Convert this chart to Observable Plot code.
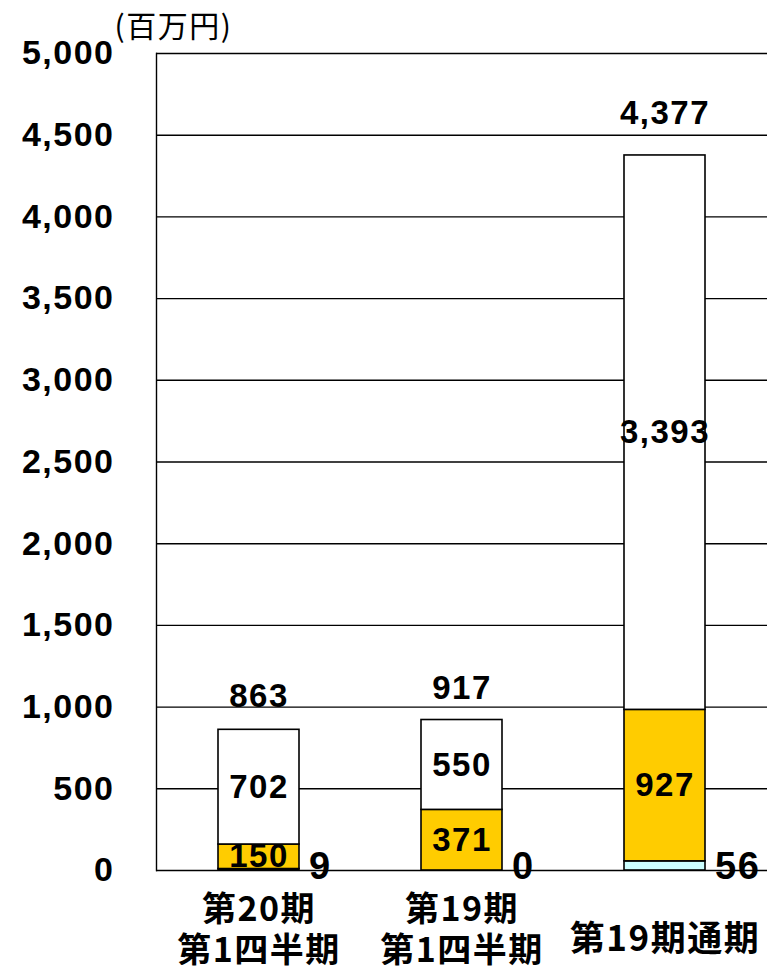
<!DOCTYPE html>
<html>
<head>
<meta charset="utf-8">
<script src="https://cdn.jsdelivr.net/npm/d3@7"></script>
<script src="https://cdn.jsdelivr.net/npm/@observablehq/plot@0.6"></script>
<style>
  html, body { margin: 0; padding: 0; background: #fff; }
  #chart svg { display: block; }
  #chart svg text { letter-spacing: 1.5px; }
</style>
</head>
<body>
<div id="chart"></div>
<script>
// ---- data ----
const categories = ["第20期\n第1四半期", "第19期\n第1四半期", "第19期通期"];
const seriesNames = ["その他", "中間", "上部"];
const bottomValues = [9, 0, 56];        // light cyan
const middleValues = [150, 371, 927];   // gold
const topValues = [702, 550, 3393];     // white
const totals = [863, 917, 4377];
const yTicks = [0, 500, 1000, 1500, 2000, 2500, 3000, 3500, 4000, 4500, 5000];
const unitLabel = "(百万円)";

const rows = [];
categories.forEach((c, i) => {
  rows.push({cat: c, series: seriesNames[0], value: bottomValues[i]});
  rows.push({cat: c, series: seriesNames[1], value: middleValues[i]});
  rows.push({cat: c, series: seriesNames[2], value: topValues[i]});
});
const totalRows = categories.map((c, i) => ({cat: c, total: totals[i]}));
const smallRows = categories.map((c, i) => ({cat: c, value: bottomValues[i]}));

const fmt = d3.format(",");
const numFont = "'Liberation Sans', Arial, sans-serif";
const cjkFont = "'Noto Sans CJK JP', sans-serif";
const numStyle = {fontSize: 33, fontWeight: "bold", fontFamily: numFont, fill: "#000"};

const chart = Plot.plot({
  width: 769,
  height: 972,
  marginTop: 53,
  marginBottom: 102,
  marginLeft: 156,
  marginRight: 2,
  x: {domain: categories, paddingInner: 0.6, paddingOuter: 0.3, axis: null},
  y: {domain: [0, 5000], axis: null},
  color: {domain: seriesNames, range: ["#ccffff", "#ffcc00", "#ffffff"]},
  marks: [
    Plot.ruleY(yTicks, {stroke: "#000", strokeWidth: 1.4}),
    Plot.axisY(yTicks, {
      tickSize: 0, tickPadding: 42, tickFormat: fmt,
      fontSize: 34, fontWeight: "bold", fontFamily: numFont, fill: "#000"
    }),
    Plot.frame({anchor: "left", stroke: "#000", strokeWidth: 1.4}),
    Plot.barY(rows, {
      x: "cat", y: "value", fill: "series", order: seriesNames,
      stroke: "#000", strokeWidth: 1.6
    }),
    Plot.text(rows, Plot.stackY({
      x: "cat", y: "value", z: "series", order: seriesNames,
      text: d => d.series === seriesNames[0] ? "" : fmt(d.value),
      ...numStyle
    })),
    Plot.text(totalRows.slice(0, 2), {
      x: "cat", y: "total", text: d => fmt(d.total), lineAnchor: "bottom", dy: -22, ...numStyle
    }),
    Plot.text(totalRows.slice(2), {
      x: "cat", y: "total", text: d => fmt(d.total), lineAnchor: "bottom", dy: -31, ...numStyle
    }),
    Plot.text(smallRows, {
      x: "cat", y: 0, text: d => fmt(d.value), textAnchor: "start", dx: 50, dy: -4,
      fontSize: 38, fontWeight: "bold", fontFamily: numFont, fill: "#000"
    }),
    Plot.text(categories.slice(0, 2), {
      x: d => d, text: d => d, frameAnchor: "bottom", lineAnchor: "middle", dy: 58,
      lineHeight: 1.2, fontSize: 34, fontWeight: "bold", fontFamily: cjkFont, fill: "#000"
    }),
    Plot.text(categories.slice(2), {
      x: d => d, text: d => d, frameAnchor: "bottom", lineAnchor: "middle", dy: 69,
      fontSize: 35, fontWeight: "bold", fontFamily: cjkFont, fill: "#000"
    }),
    Plot.text([unitLabel], {
      frameAnchor: "top-left", text: d => d, textAnchor: "start", lineAnchor: "middle",
      dx: -42, dy: -26, fontSize: 30, fontFamily: cjkFont, fill: "#000"
    })
  ]
});
document.getElementById("chart").appendChild(chart);
</script>
</body>
</html>
